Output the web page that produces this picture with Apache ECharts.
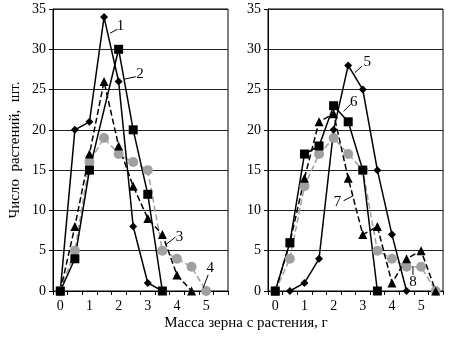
<!DOCTYPE html>
<html>
<head>
<meta charset="utf-8">
<script src="https://cdn.jsdelivr.net/npm/echarts@6/dist/echarts.min.js"></script>
<style>
  html, body { margin: 0; padding: 0; background: #fff; }
  #chart { width: 472px; height: 338px; }
</style>
</head>
<body>
<div id="chart"></div>
<script>
// масса зерна, г (шаг 0.5)
const cats = ["0", "0.5", "1", "1.5", "2", "2.5", "3", "3.5", "4", "4.5", "5", "5.5"]
const yTicks = [0, 5, 10, 15, 20, 25, 30, 35]

// левая диаграмма
const s1 = [0, 20, 21, 34, 26, 8, 1, 0, null, null, null, null]
const s2 = [0, 4, 15, null, 30, 20, 12, 0, null, null, null, null]
const s3 = [0, 8, 17, 26, 18, 13, 9, 7, 2, 0, null, null]
const s4 = [0, 5, 16, 19, 17, 16, 15, 5, 4, 3, 0, null]

// правая диаграмма
const s5 = [null, 0, 1, 4, 20, 28, 25, 15, 7, 0, null, null]
const s6 = [0, 6, 17, 18, 23, 21, 15, 0, null, null, null, null]
const s7 = [0, 6, 14, 21, 22, 14, 7, 8, 1, 4, 5, 0]
const s8 = [0, 4, 13, 17, 19, 17, 15, 5, 4, 3, 3, 0]

// номера кривых: [текст, сетка, позиция текста, начало выноски, конец выноски] (в единицах данных)
const curveLabels = [
  ["1", 0, [2.06, 32.9], [1.71, 32.0], [1.96, 32.5]],
  ["2", 0, [2.73, 26.9], [2.2, 26.3], [2.59, 26.6]],
  ["3", 0, [4.09, 6.7], [3.6, 5.7], [3.95, 6.7]],
  ["4", 0, [5.14, 2.9], [4.9, 0.4], [5.07, 2.0]],
  ["5", 1, [3.15, 28.4], [2.73, 27.1], [2.97, 27.9]],
  ["6", 1, [2.69, 23.5], [2.34, 22.3], [2.59, 23.2]],
  ["7", 1, [2.13, 11.1], [2.34, 11.2], [2.66, 11.8]],
  ["8", 1, [4.72, 1.1], [4.72, 3.1], [4.72, 2.0]],
]

const yName = "Число  растений,  шт."
const xName = "Масса зерна с растения, г"

const FONT = "Liberation Serif"
const chart = echarts.init(document.getElementById("chart"))

function xAxisFor(gridIndex) {
  return {
    type: "category",
    gridIndex: gridIndex,
    data: cats,
    boundaryGap: true,
    axisLine: { lineStyle: { color: "#000", width: 1 } },
    axisTick: { show: true, interval: 0, length: 4, lineStyle: { color: "#000" } },
    axisLabel: { interval: 1, margin: 8, color: "#000", fontFamily: FONT, fontSize: 14 },
    splitLine: { show: false },
  }
}

function yAxisFor(gridIndex) {
  return {
    type: "value",
    gridIndex: gridIndex,
    min: yTicks[0],
    max: yTicks[yTicks.length - 1],
    interval: 5,
    name: gridIndex === 0 ? yName : "",
    nameLocation: "middle",
    nameGap: 30,
    nameTextStyle: { color: "#000", fontFamily: FONT, fontSize: 15 },
    axisLine: { show: true, lineStyle: { color: "#000", width: 1 } },
    axisTick: { show: true, length: 4, lineStyle: { color: "#000" } },
    axisLabel: { margin: 7, color: "#000", fontFamily: FONT, fontSize: 14 },
    splitLine: { show: true, lineStyle: { color: "#222", width: 1 } },
  }
}

function lineSeries(data, g, symbol, size, color, dashed) {
  return {
    type: "line",
    xAxisIndex: g,
    yAxisIndex: g,
    data: data,
    connectNulls: true,
    symbol: symbol,
    symbolSize: size,
    showAllSymbol: true,
    clip: false,
    animation: false,
    itemStyle: { color: color, borderWidth: 0 },
    lineStyle: { color: color, width: 1.5, type: dashed ? [6, 3] : "solid" },
  }
}

const GRAY = "#a0a0a0"

chart.setOption({
  backgroundColor: "#fff",
  animation: false,
  grid: [
    { left: 53, width: 175, top: 9, bottom: 47, show: true, borderColor: "#000", borderWidth: 1, backgroundColor: "transparent" },
    { left: 268, width: 175, top: 9, bottom: 47, show: true, borderColor: "#000", borderWidth: 1, backgroundColor: "transparent" },
  ],
  xAxis: [xAxisFor(0), xAxisFor(1)],
  yAxis: [yAxisFor(0), yAxisFor(1)],
  series: [
    lineSeries(s4, 0, "circle", 10, GRAY, true),
    lineSeries(s3, 0, "triangle", 9, "#000", true),
    lineSeries(s2, 0, "rect", 9, "#000", false),
    lineSeries(s1, 0, "diamond", 8, "#000", false),
    lineSeries(s8, 1, "circle", 10, GRAY, true),
    lineSeries(s7, 1, "triangle", 9, "#000", true),
    lineSeries(s6, 1, "rect", 9, "#000", false),
    lineSeries(s5, 1, "diamond", 8, "#000", false),
  ],
})

// перевод (масса, число) в пиксели через шкалы сетки
function toPx(g, x, y) {
  const a = chart.convertToPixel({ gridIndex: g }, [0, y])
  const b = chart.convertToPixel({ gridIndex: g }, [1, y])
  return [a[0] + (b[0] - a[0]) * (x / 0.5), a[1]]
}

const graphics = []
curveLabels.forEach((item) => {
  const t = toPx(item[1], item[2][0], item[2][1])
  const p1 = toPx(item[1], item[3][0], item[3][1])
  const p2 = toPx(item[1], item[4][0], item[4][1])
  graphics.push({
    type: "line",
    shape: { x1: p1[0], y1: p1[1], x2: p2[0], y2: p2[1] },
    style: { stroke: "#000", lineWidth: 1 },
    z: 10,
  })
  graphics.push({
    type: "text",
    x: t[0],
    y: t[1],
    style: { text: item[0], fill: "#000", font: "15px " + FONT, textAlign: "center", textVerticalAlign: "middle" },
    z: 10,
  })
})

graphics.push({
  type: "text",
  x: 246,
  y: 323,
  style: { text: xName, fill: "#000", font: "15px " + FONT, textAlign: "center", textVerticalAlign: "middle" },
})

chart.setOption({ graphic: graphics })

window.addEventListener("resize", () => {
  chart.resize()
})
</script>
</body>
</html>
